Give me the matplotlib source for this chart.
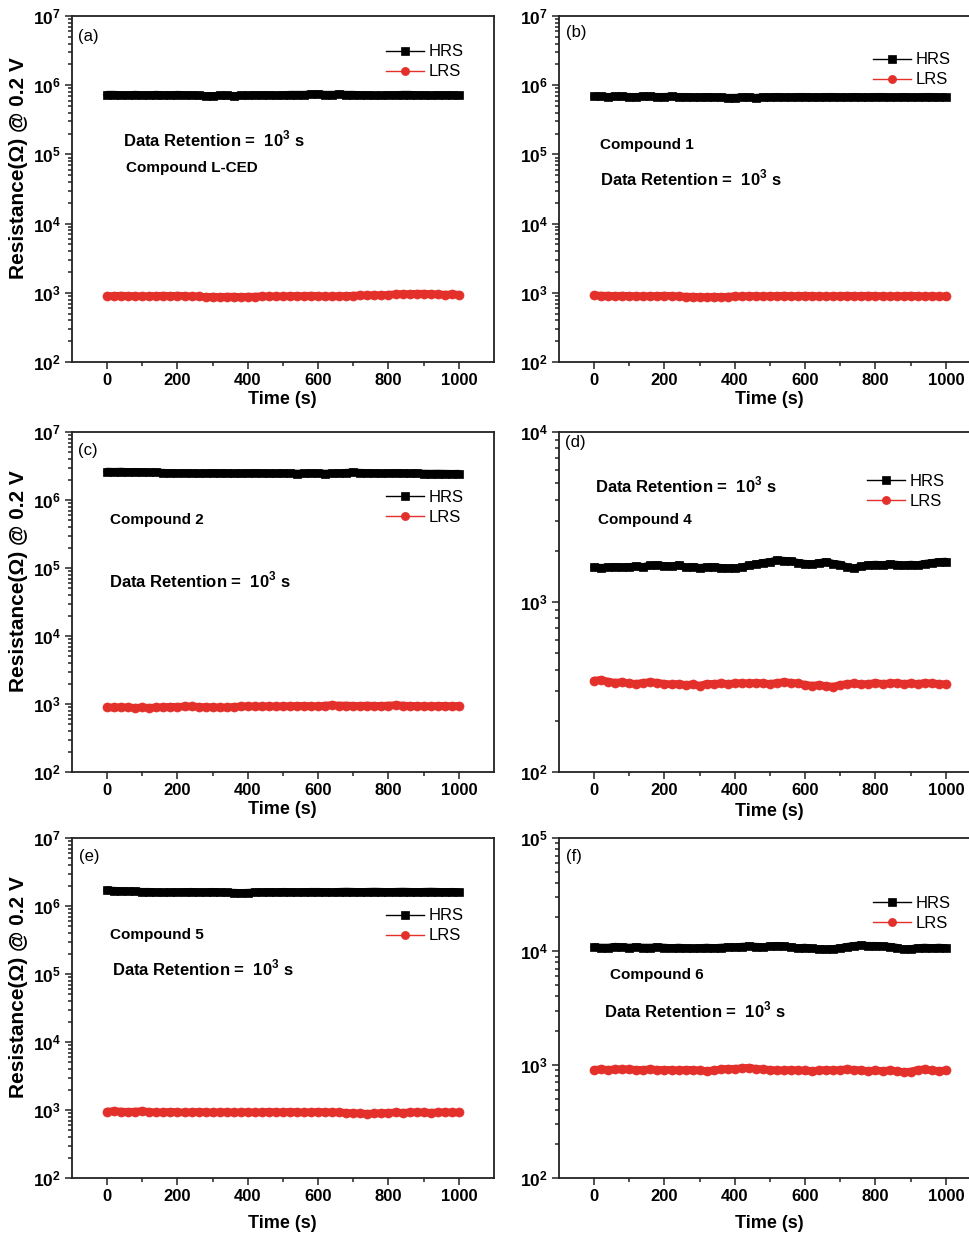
import numpy as np
import matplotlib
matplotlib.use("Agg")
import matplotlib.pyplot as plt
from matplotlib.ticker import FixedLocator, FuncFormatter, LogLocator, NullFormatter

plt.rcParams['font.family'] = ['Liberation Sans', 'DejaVu Sans']
plt.rcParams['mathtext.fontset'] = 'custom'
plt.rcParams['mathtext.rm'] = 'Liberation Sans'
plt.rcParams['mathtext.bf'] = 'Liberation Sans:bold'

W, H = 970, 1234

# time axis (s), one reading every 20 s
time_s = np.arange(0, 1001, 20)

# (a) Compound L-CED
a_hrs = [7.3, 7.3, 7.2, 7.2, 7.3, 7.2, 7.2, 7.3, 7.2, 7.2,
         7.3, 7.2, 7.2, 7.1, 7.0, 7.0, 7.1, 7.1, 7.0, 7.1,
         7.1, 7.2, 7.2, 7.2, 7.1, 7.2, 7.3, 7.3, 7.3, 7.4,
         7.4, 7.3, 7.3, 7.4, 7.3, 7.3, 7.2, 7.2, 7.1, 7.1,
         7.2, 7.2, 7.3, 7.3, 7.2, 7.2, 7.1, 7.2, 7.2, 7.2,
         7.1]  # x1e5
a_lrs = [9.0, 9.0, 9.1, 9.0, 9.0, 8.9, 9.0, 9.0, 9.1, 9.0,
         9.1, 9.0, 8.9, 8.9, 8.7, 8.8, 8.7, 8.8, 8.8, 8.7,
         8.8, 8.8, 8.9, 8.9, 8.9, 8.9, 9.0, 9.0, 9.0, 9.1,
         9.0, 8.9, 8.9, 9.0, 9.0, 9.1, 9.2, 9.2, 9.3, 9.2,
         9.4, 9.5, 9.6, 9.6, 9.7, 9.7, 9.6, 9.5, 9.4, 9.5,
         9.4]  # x1e2

# (b) Compound 1
b_hrs = [6.9, 6.9, 6.8, 6.9, 6.9, 6.8, 6.8, 6.9, 6.9, 6.8,
         6.8, 6.9, 6.8, 6.8, 6.7, 6.7, 6.8, 6.7, 6.7, 6.6,
         6.6, 6.7, 6.7, 6.6, 6.7, 6.7, 6.8, 6.7, 6.7, 6.8,
         6.8, 6.7, 6.7, 6.8, 6.8, 6.7, 6.7, 6.8, 6.7, 6.7,
         6.8, 6.8, 6.7, 6.7, 6.8, 6.7, 6.7, 6.8, 6.8, 6.7,
         6.7]  # x1e5
b_lrs = [9.2, 9.1, 9.1, 9.0, 9.1, 9.0, 9.0, 8.9, 9.0, 9.0,
         9.1, 9.0, 8.9, 8.8, 8.8, 8.7, 8.7, 8.8, 8.7, 8.8,
         8.9, 8.9, 9.0, 9.0, 8.9, 9.0, 9.0, 9.1, 9.0, 9.0,
         9.1, 9.0, 9.0, 8.9, 9.0, 9.0, 9.1, 9.0, 9.0, 9.1,
         9.0, 9.0, 8.9, 9.0, 9.0, 9.1, 9.0, 8.9, 9.0, 8.9,
         8.9]  # x1e2

# (c) Compound 2
c_hrs = [2.62, 2.60, 2.62, 2.58, 2.60, 2.58, 2.55, 2.56, 2.52, 2.50,
         2.48, 2.50, 2.48, 2.46, 2.48, 2.50, 2.49, 2.48, 2.46, 2.47,
         2.48, 2.50, 2.48, 2.47, 2.46, 2.48, 2.47, 2.45, 2.46, 2.48,
         2.47, 2.45, 2.46, 2.48, 2.52, 2.55, 2.52, 2.50, 2.48, 2.46,
         2.48, 2.50, 2.48, 2.46, 2.47, 2.45, 2.44, 2.45, 2.44, 2.43,
         2.44]  # x1e6
c_lrs = [8.9, 8.9, 9.0, 8.9, 8.8, 8.9, 8.8, 8.9, 9.0, 9.1,
         9.1, 9.2, 9.2, 9.1, 9.0, 9.0, 8.9, 8.9, 9.1, 9.2,
         9.3, 9.2, 9.2, 9.3, 9.2, 9.3, 9.3, 9.4, 9.4, 9.3,
         9.3, 9.5, 9.6, 9.5, 9.5, 9.4, 9.4, 9.5, 9.4, 9.4,
         9.5, 9.6, 9.5, 9.4, 9.4, 9.3, 9.3, 9.4, 9.4, 9.3,
         9.4]  # x1e2

# (d) Compound 4
d_hrs = [1600, 1590, 1600, 1610, 1600, 1610, 1620, 1610, 1640, 1650,
         1630, 1620, 1650, 1600, 1610, 1590, 1600, 1610, 1590, 1580,
         1580, 1600, 1640, 1670, 1700, 1720, 1760, 1750, 1740, 1700,
         1680, 1670, 1700, 1720, 1680, 1660, 1600, 1580, 1620, 1650,
         1660, 1650, 1670, 1660, 1640, 1660, 1650, 1680, 1700, 1720,
         1730]
d_lrs = [345, 348, 340, 335, 338, 332, 330, 335, 338, 335,
         330, 328, 330, 325, 328, 322, 330, 330, 332, 330,
         332, 334, 332, 335, 332, 330, 334, 338, 335, 332,
         326, 322, 325, 320, 318, 325, 330, 332, 328, 330,
         334, 330, 332, 334, 330, 332, 330, 334, 332, 330,
         328]

# (e) Compound 5
e_hrs = [1.70, 1.68, 1.66, 1.65, 1.64, 1.62, 1.62, 1.60, 1.58, 1.60,
         1.60, 1.61, 1.62, 1.60, 1.60, 1.62, 1.60, 1.58, 1.57, 1.56,
         1.57, 1.59, 1.60, 1.61, 1.60, 1.62, 1.61, 1.60, 1.61, 1.62,
         1.62, 1.61, 1.60, 1.62, 1.63, 1.62, 1.61, 1.62, 1.63, 1.62,
         1.61, 1.62, 1.63, 1.62, 1.61, 1.62, 1.63, 1.62, 1.61, 1.62,
         1.60]  # x1e6
e_lrs = [9.5, 9.6, 9.5, 9.4, 9.5, 9.6, 9.4, 9.2, 9.3, 9.4,
         9.3, 9.2, 9.3, 9.4, 9.3, 9.2, 9.3, 9.3, 9.2, 9.3,
         9.3, 9.2, 9.3, 9.4, 9.3, 9.3, 9.4, 9.3, 9.2, 9.3,
         9.4, 9.3, 9.3, 9.2, 9.1, 9.0, 8.9, 8.8, 8.9, 9.0,
         9.1, 9.2, 9.1, 9.2, 9.3, 9.2, 9.1, 9.2, 9.3, 9.2,
         9.2]  # x1e2

# (f) Compound 6
f_hrs = [1.09, 1.08, 1.08, 1.10, 1.09, 1.08, 1.09, 1.08, 1.08, 1.09,
         1.08, 1.07, 1.08, 1.07, 1.06, 1.07, 1.08, 1.07, 1.08, 1.09,
         1.09, 1.10, 1.11, 1.10, 1.09, 1.11, 1.12, 1.11, 1.09, 1.07,
         1.08, 1.06, 1.05, 1.04, 1.05, 1.07, 1.10, 1.12, 1.13, 1.12,
         1.12, 1.11, 1.10, 1.08, 1.04, 1.05, 1.07, 1.08, 1.07, 1.08,
         1.07]  # x1e4
f_lrs = [9.0, 9.1, 9.0, 9.1, 9.1, 9.1, 9.0, 9.0, 9.1, 9.0,
         9.0, 9.0, 8.9, 9.0, 9.0, 8.9, 8.8, 8.9, 9.1, 9.2,
         9.2, 9.3, 9.4, 9.2, 9.1, 9.0, 8.9, 8.9, 9.0, 8.9,
         8.9, 8.8, 8.9, 9.0, 8.9, 9.0, 9.1, 9.0, 8.9, 8.8,
         8.9, 8.8, 8.9, 8.8, 8.6, 8.7, 9.0, 9.1, 8.9, 8.8,
         8.9]  # x1e2

panel_tags = ['(a)', '(b)', '(c)', '(d)', '(e)', '(f)']
compounds = ['Compound L-CED', 'Compound 1', 'Compound 2',
             'Compound 4', 'Compound 5', 'Compound 6']
hrs_sets = [np.array(a_hrs) * 1e5, np.array(b_hrs) * 1e5, np.array(c_hrs) * 1e6,
            np.array(d_hrs), np.array(e_hrs) * 1e6, np.array(f_hrs) * 1e4]
lrs_sets = [np.array(a_lrs) * 1e2, np.array(b_lrs) * 1e2, np.array(c_lrs) * 1e2,
            np.array(d_lrs), np.array(e_lrs) * 1e2, np.array(f_lrs) * 1e2]
ylims = [(1e2, 1e7), (1e2, 1e7), (1e2, 1e7), (1e2, 1e4), (1e2, 1e7), (1e2, 1e5)]

RED = '#e4302b'


def fx(x):
    return x / W


def fy(y):
    return 1 - y / H


# axes boxes in pixels: left, top, right, bottom
boxes = [(72, 16, 494, 362), (559, 16, 981, 362),
         (72, 432, 494, 772), (559, 432, 981, 772),
         (72, 838, 494, 1178), (559, 838, 981, 1178)]
# legend anchor (handle start x, middle y)
leg_pos = [(386, 62), (873, 70), (386, 507), (867, 491), (386, 926), (873, 913)]
tag_pos = [(78, 37), (566, 33), (78, 450), (565, 442), (79, 856), (566, 856)]
# (x, y) of retention text and compound text
dr_pos = [(123, 139), (600, 178), (109, 580), (595, 485), (112, 968), (604, 1010)]
cp_pos = [(126, 168), (600, 145), (110, 520), (598, 520), (110, 935), (610, 975)]
xlab_y = [400, 400, 810, 811, 1224, 1224]

fig = plt.figure(figsize=(W / 100, H / 100), dpi=100)

bold_pow = FuncFormatter(lambda v, p: r'$\mathbf{10^{%d}}$' % int(round(np.log10(v))))

for i in range(6):
    l, t, r, b = boxes[i]
    ax = fig.add_axes([fx(l), fy(b), (r - l) / W, (b - t) / H])
    # dense readings merge into a solid band
    ax.plot(time_s, hrs_sets[i], '-', color='black', lw=5.5, solid_capstyle='round')
    ax.plot(time_s, lrs_sets[i], '-', color=RED, lw=5.5, solid_capstyle='round')
    ax.plot(time_s, hrs_sets[i], '-s', color='black', ms=6, mew=0.5, lw=1, label='HRS')
    ax.plot(time_s, lrs_sets[i], '-o', color=RED, ms=6.5, mew=0.5, lw=1, label='LRS')
    ax.set_yscale('log')
    ax.set_ylim(*ylims[i])
    ax.set_xlim(-100, 1100)
    ax.xaxis.set_major_locator(FixedLocator([0, 200, 400, 600, 800, 1000]))
    ax.xaxis.set_minor_locator(FixedLocator([100, 300, 500, 700, 900]))
    ax.yaxis.set_major_locator(LogLocator(base=10, numticks=10))
    ax.yaxis.set_minor_locator(LogLocator(base=10, subs=np.arange(2, 10), numticks=20))
    ax.yaxis.set_major_formatter(bold_pow)
    ax.yaxis.set_minor_formatter(NullFormatter())
    ax.tick_params(which='both', direction='out', top=False, right=False, width=1.1,
                   color='#222222')
    ax.tick_params(which='major', length=5, pad=3)
    ax.tick_params(axis='x', which='major', labelsize=12)
    ax.tick_params(axis='y', which='major', labelsize=12.5)
    ax.tick_params(which='minor', length=3)
    for lab in ax.get_xticklabels():
        lab.set_fontweight('bold')
    for sp in ax.spines.values():
        sp.set_linewidth(1.3)
        sp.set_color('#222222')

    ax.set_xlabel('Time (s)', fontsize=13, fontweight='bold', va='center')
    ax.xaxis.set_label_coords((282 - 72) / 422, -(xlab_y[i] - b) / (b - t))
    if i % 2 == 0:
        ax.set_ylabel('Resistance(Ω) @ 0.2 V', fontsize=15, fontweight='bold')
        ax.yaxis.set_label_coords(-(72 - 28) / 422, 0.56)

    lx, ly = leg_pos[i]
    ax.legend(loc='center left', bbox_to_anchor=(fx(lx), fy(ly)), bbox_transform=fig.transFigure,
              frameon=False, fontsize=12, handlelength=2.3, handletextpad=0.25,
              labelspacing=0.3, borderpad=0, borderaxespad=0, markerscale=0.9)

    tx, ty = tag_pos[i]
    fig.text(fx(tx), fy(ty), panel_tags[i], fontsize=12, va='center', ha='left')
    dx, dy = dr_pos[i]
    fig.text(fx(dx), fy(dy), r'Data Retention =  10$^{\mathbf{3}}$ s', fontsize=12,
             fontweight='bold', va='center', ha='left')
    cx, cy = cp_pos[i]
    fig.text(fx(cx), fy(cy), compounds[i], fontsize=11, fontweight='bold', va='center', ha='left')

fig.savefig('out.png', dpi=100)
